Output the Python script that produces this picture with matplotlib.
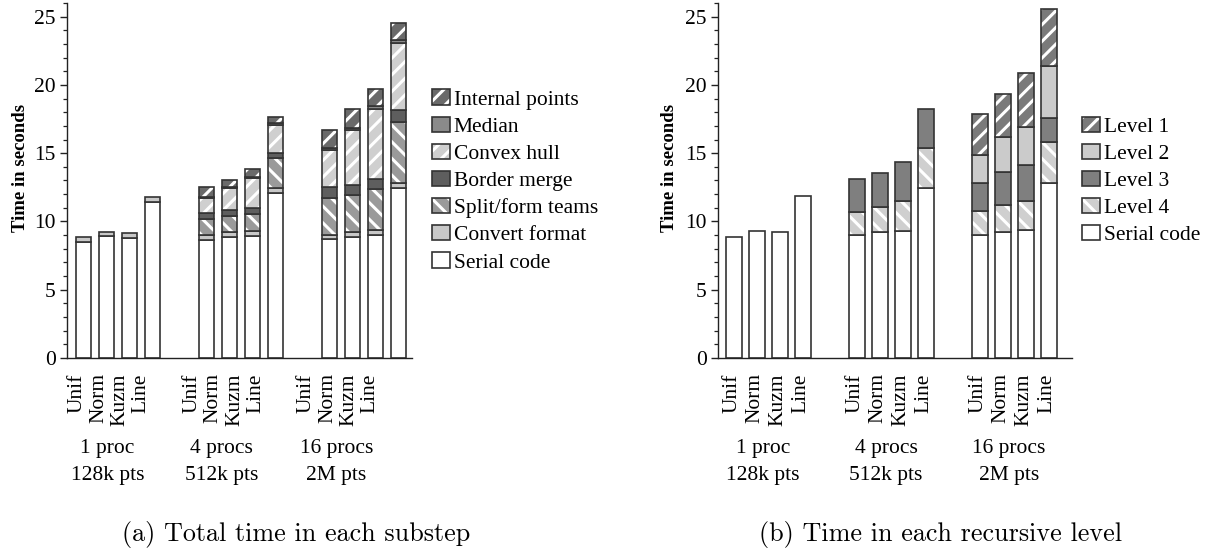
import matplotlib
matplotlib.use("Agg")
import matplotlib.pyplot as plt
import numpy as np

plt.rcParams['font.family'] = ['Liberation Serif', 'DejaVu Serif']
plt.rcParams['hatch.linewidth'] = 2.2

# ---------------- data ----------------
dists = ["Unif", "Norm", "Kuzm", "Line"]
groups_l1 = ["1 proc", "4 procs", "16 procs"]
groups_l2 = ["128k pts", "512k pts", "2M pts"]

# (a) substeps, 12 bars: 3 groups x 4 distributions
serial_a = [8.50, 8.92, 8.82, 11.44,  8.67, 8.89, 8.94, 12.10,  8.72, 8.87, 9.01, 12.44]
convert_a = [0.37, 0.31, 0.36, 0.36,  0.34, 0.34, 0.39, 0.34,  0.32, 0.36, 0.39, 0.41]
split_a = [0.0, 0.0, 0.0, 0.0,  1.17, 1.14, 1.21, 2.21,  2.69, 2.70, 2.97, 4.47]
border_a = [0.0, 0.0, 0.0, 0.0,  0.44, 0.44, 0.41, 0.39,  0.78, 0.75, 0.73, 0.83]
convex_a = [0.0, 0.0, 0.0, 0.0,  1.07, 1.63, 2.22, 2.06,  2.70, 4.03, 5.14, 4.95]
median_a = [0.0, 0.0, 0.0, 0.0,  0.09, 0.10, 0.07, 0.08,  0.14, 0.13, 0.20, 0.22]
internal_a = [0.0, 0.0, 0.0, 0.0,  0.73, 0.51, 0.58, 0.48,  1.34, 1.43, 1.29, 1.24]

# (b) recursive levels
serial_b = [8.87, 9.31, 9.23, 11.83,  9.01, 9.21, 9.33, 12.46,  9.04, 9.23, 9.40, 12.85]
level4_b = [0.0, 0.0, 0.0, 0.0,  1.68, 1.85, 2.19, 2.94,  1.73, 1.97, 2.07, 2.98]
level3_b = [0.0, 0.0, 0.0, 0.0,  2.41, 2.50, 2.82, 2.80,  2.03, 2.45, 2.69, 1.74]
level2_b = [0.0, 0.0, 0.0, 0.0,  0.0, 0.0, 0.0, 0.0,  2.09, 2.51, 2.75, 3.79]
level1_b = [0.0, 0.0, 0.0, 0.0,  0.0, 0.0, 0.0, 0.0,  2.97, 3.21, 3.94, 4.22]

# ---------------- layout ----------------
W, H = 1206, 554
fig = plt.figure(figsize=(W / 100, H / 100), dpi=100)
axA = fig.add_axes([67 / W, 1 - 358 / H, 345 / W, 355 / H])
axB = fig.add_axes([718 / W, 1 - 358 / H, 354 / W, 355 / H])

GROUP_STEP = 5.35
xpos = np.array([g * GROUP_STEP + i for g in range(3) for i in range(4)])
BW = 0.67
EDGE = '#333333'
FS = 15.5


def stack(ax, series):
    bottom = np.zeros(len(xpos))
    handles = []
    for vals, fc, hatch, label in series:
        vals = np.asarray(vals, float)
        m = vals > 0
        ax.bar(xpos[m], vals[m], BW, bottom=bottom[m], color=fc,
               edgecolor='white' if hatch else fc, hatch=hatch, linewidth=0)
        ax.bar(xpos[m], vals[m], BW, bottom=bottom[m], fill=False,
               edgecolor=EDGE, linewidth=1.2)
        p1 = plt.Rectangle((0, 0), 1, 1, facecolor=fc,
                           edgecolor='white' if hatch else fc, hatch=hatch, linewidth=0)
        p2 = plt.Rectangle((0, 0), 1, 1, fill=False, edgecolor=EDGE, linewidth=1.2)
        handles.append(((p1, p2), label))
        bottom = bottom + vals
    return handles


hA = stack(axA, [
    (serial_a, 'white', None, 'Serial code'),
    (convert_a, '#c8c8c8', None, 'Convert format'),
    (split_a, '#9a9a9a', '\\\\', 'Split/form teams'),
    (border_a, '#5e5e5e', None, 'Border merge'),
    (convex_a, '#cfcfcf', '//', 'Convex hull'),
    (median_a, '#8a8a8a', None, 'Median'),
    (internal_a, '#6a6a6a', '//', 'Internal points'),
])
hB = stack(axB, [
    (serial_b, 'white', None, 'Serial code'),
    (level4_b, '#cfcfcf', '\\\\', 'Level 4'),
    (level3_b, '#7f7f7f', None, 'Level 3'),
    (level2_b, '#cbcbcb', None, 'Level 2'),
    (level1_b, '#7a7a7a', '//', 'Level 1'),
])

for ax, hs, leg_x in [(axA, hA, 432), (axB, hB, 1082)]:
    ax.set_ylim(0, 26)
    ax.set_yticks([0, 5, 10, 15, 20, 25])
    ax.set_yticks(np.arange(0, 27, 1), minor=True)
    ax.tick_params(axis='y', which='major', length=5, width=1, direction='out',
                   labelsize=FS, pad=3, color='#222222')
    ax.tick_params(axis='y', which='minor', length=2.8, width=0.9, direction='out',
                   color='#222222')
    for s in ['top', 'right']:
        ax.spines[s].set_visible(False)
    for s in ['left', 'bottom']:
        ax.spines[s].set_linewidth(1.0)
        ax.spines[s].set_color('#222222')
    ax.set_ylabel('Time in seconds', fontsize=13.5, fontweight='bold')
    hs = hs[::-1]
    ax.legend([h for h, _ in hs], [l for _, l in hs], loc='center left',
              bbox_to_anchor=(leg_x / W, 1 - 181 / H), bbox_transform=fig.transFigure,
              frameon=False, fontsize=FS, borderpad=0, borderaxespad=0,
              handlelength=0.85, handleheight=0.7, handletextpad=0.15,
              labelspacing=0.33)

axA.yaxis.set_label_coords(-0.110, 0.535)
axB.yaxis.set_label_coords(-0.113, 0.535)
axA.set_xlim(-16.5 / 23, (412 - 83.5) / 23)
axB.set_xlim(-16 / 23, (1072 - 734) / 23)

# tick label positions
labx_A = xpos * 0.931 - 0.28
labx_B = xpos - 0.1
for ax, labx in [(axA, labx_A), (axB, labx_B)]:
    ax.set_xticks(labx)
    ax.set_xticklabels(dists * 3, rotation=90, va='top', ha='center', fontsize=FS)
    ax.tick_params(axis='x', length=0, pad=11)

# group labels
for ax, labx, shift in [(axA, labx_A, -0.08), (axB, labx_B, -0.14)]:
    tr = ax.get_xaxis_transform()
    for g in range(3):
        cx = labx[g * 4:(g + 1) * 4].mean() + shift
        ax.text(cx, -0.254, groups_l1[g], transform=tr, ha='center', va='center', fontsize=FS)
        ax.text(cx, -0.330, groups_l2[g], transform=tr, ha='center', va='center', fontsize=FS)

# captions
fig.text(296 / W, 1 - 534 / H, '(a) Total time in each substep', family='cmr10',
         fontsize=18.8, ha='center', va='center')
fig.text(941 / W, 1 - 534 / H, '(b) Time in each recursive level', family='cmr10',
         fontsize=18.8, ha='center', va='center')

fig.savefig('out.png', dpi=100)
